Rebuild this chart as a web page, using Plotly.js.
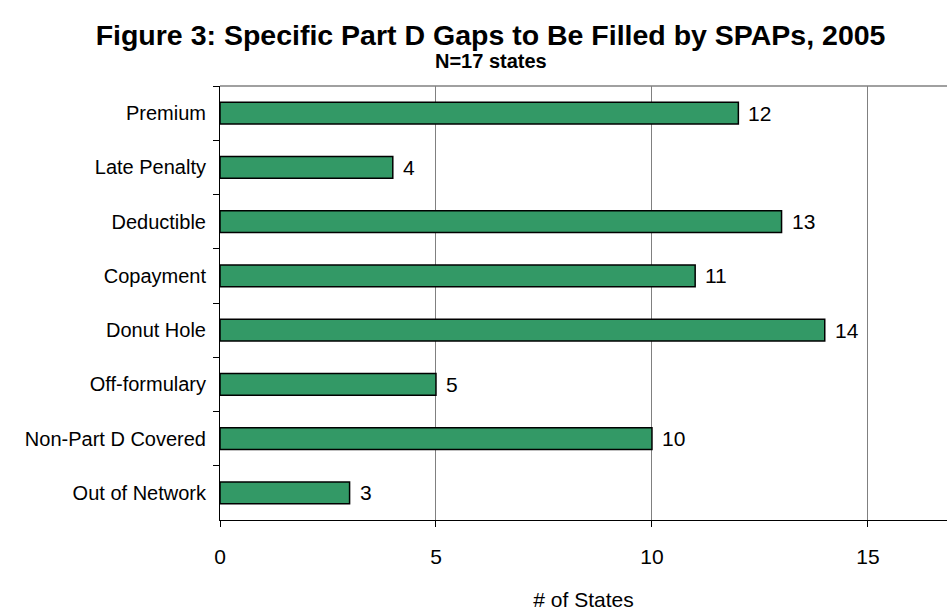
<!DOCTYPE html>
<html>
<head>
<meta charset="utf-8">
<script src="https://cdn.plot.ly/plotly-3.0.1.min.js"></script>
<style>
  html, body { margin: 0; padding: 0; overflow: hidden; background: #fff; }
  #chart { width: 947px; height: 614px; }
</style>
</head>
<body>
<div id="chart"></div>
<script>
// Gap types covered by state pharmacy assistance programs, top to bottom
const categories = [
  "Premium",
  "Late Penalty",
  "Deductible",
  "Copayment",
  "Donut Hole",
  "Off-formulary",
  "Non-Part D Covered",
  "Out of Network"
];
// Number of states filling each gap
const stateCounts = [12, 4, 13, 11, 14, 5, 10, 3];
const xTickValues = [0, 5, 10, 15];

const FONT = "Liberation Sans, Arial, Helvetica, sans-serif";

const barTrace = {
  type: "bar",
  orientation: "h",
  x: stateCounts,
  y: categories,
  marker: {
    color: "#339966",
    line: { color: "#000000", width: 1.5 }
  },
  hoverinfo: "x+y"
};

// Value labels just past the end of each bar
const valueLabels = categories.map((c, i) => ({
  x: stateCounts[i],
  y: c,
  xref: "x",
  yref: "y",
  text: String(stateCounts[i]),
  showarrow: false,
  xanchor: "left",
  yanchor: "middle",
  xshift: 8,
  font: { family: FONT, size: 21, color: "#000" }
}));

const layout = {
  width: 947,
  height: 614,
  margin: { l: 220, r: 0, t: 86, b: 94 },
  paper_bgcolor: "#ffffff",
  plot_bgcolor: "#ffffff",
  showlegend: false,
  bargap: 0.6,
  title: {
    text: "<b>Figure 3: Specific Part D Gaps to Be Filled by SPAPs, 2005</b>",
    font: { family: FONT, size: 28.5, color: "#000" },
    xref: "container",
    x: 0.518,
    xanchor: "center",
    yref: "container",
    y: 1 - 35 / 614,
    yanchor: "middle"
  },
  xaxis: {
    range: [0, 16.83],
    tickvals: xTickValues,
    ticktext: xTickValues.map(String),
    showgrid: true,
    gridcolor: "#808080",
    gridwidth: 1,
    zeroline: false,
    showline: true,
    linecolor: "#000000",
    linewidth: 1,
    ticks: "outside",
    ticklen: 6,
    tickcolor: "#000000",
    ticklabelstandoff: 12,
    tickfont: { family: FONT, size: 21, color: "#000" },
    title: {
      text: "# of States",
      font: { family: FONT, size: 21, color: "#000" },
      standoff: 25
    },
    fixedrange: true
  },
  yaxis: {
    type: "category",
    autorange: "reversed",
    showgrid: false,
    zeroline: false,
    showline: true,
    linecolor: "#000000",
    linewidth: 1,
    ticks: "outside",
    tickson: "boundaries",
    ticklen: 6,
    tickcolor: "#000000",
    ticklabelstandoff: 9,
    tickfont: { family: FONT, size: 20, color: "#000" },
    fixedrange: true
  },
  shapes: [
    {
      type: "line",
      xref: "paper",
      yref: "paper",
      x0: 0, x1: 1, y0: 1, y1: 1,
      line: { color: "#808080", width: 1.5 }
    }
  ],
  annotations: [
    {
      text: "<b>N=17 states</b>",
      xref: "paper",
      yref: "paper",
      x: 0.373,
      y: 1,
      yshift: 25,
      xanchor: "center",
      yanchor: "middle",
      showarrow: false,
      font: { family: FONT, size: 20, color: "#000" }
    }
  ].concat(valueLabels)
};

Plotly.newPlot("chart", [barTrace], layout, { displayModeBar: false, staticPlot: true });
</script>
</body>
</html>
